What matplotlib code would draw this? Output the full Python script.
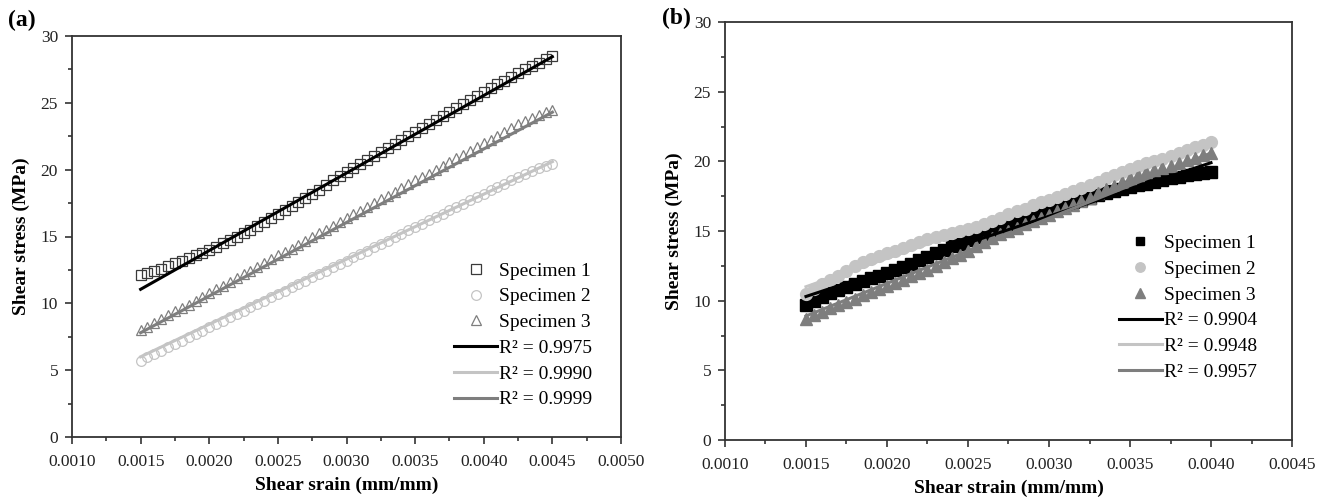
import numpy as np
import matplotlib
matplotlib.use("Agg")
import matplotlib.pyplot as plt
from matplotlib.ticker import MultipleLocator

plt.rcParams['font.family'] = ['Liberation Serif', 'DejaVu Serif']

# shear strain (mm/mm), same sampling for both panels
strain_a = [0.00150, 0.00155, 0.00160, 0.00165, 0.00170, 0.00175, 0.00180, 0.00185, 0.00190, 0.00195,
            0.00200, 0.00205, 0.00210, 0.00215, 0.00220, 0.00225, 0.00230, 0.00235, 0.00240, 0.00245,
            0.00250, 0.00255, 0.00260, 0.00265, 0.00270, 0.00275, 0.00280, 0.00285, 0.00290, 0.00295,
            0.00300, 0.00305, 0.00310, 0.00315, 0.00320, 0.00325, 0.00330, 0.00335, 0.00340, 0.00345,
            0.00350, 0.00355, 0.00360, 0.00365, 0.00370, 0.00375, 0.00380, 0.00385, 0.00390, 0.00395,
            0.00400, 0.00405, 0.00410, 0.00415, 0.00420, 0.00425, 0.00430, 0.00435, 0.00440, 0.00445,
            0.00450]
strain_b = strain_a[:51]

# (a) shear stress, MPa
a_spec1 = [12.1, 12.25, 12.4, 12.6, 12.8, 13.0, 13.2, 13.4, 13.6, 13.8,
           14.0, 14.25, 14.5, 14.75, 15.0, 15.25, 15.5, 15.8, 16.1, 16.4,
           16.7, 17.0, 17.3, 17.6, 17.9, 18.2, 18.5, 18.85, 19.2, 19.5,
           19.8, 20.1, 20.4, 20.7, 21.0, 21.3, 21.6, 21.9, 22.2, 22.5,
           22.8, 23.1, 23.4, 23.7, 24.0, 24.3, 24.6, 24.9, 25.2, 25.5,
           25.8, 26.1, 26.4, 26.65, 26.9, 27.2, 27.5, 27.75, 28.0, 28.25,
           28.5]
a_spec2 = [5.7, 5.95, 6.2, 6.45, 6.7, 6.95, 7.2, 7.45, 7.7, 7.95,
           8.2, 8.45, 8.7, 8.95, 9.2, 9.45, 9.7, 9.95, 10.2, 10.45,
           10.7, 10.95, 11.2, 11.45, 11.7, 11.95, 12.2, 12.45, 12.7, 12.95,
           13.2, 13.45, 13.7, 13.95, 14.2, 14.45, 14.7, 14.95, 15.2, 15.45,
           15.7, 15.95, 16.2, 16.45, 16.7, 16.95, 17.2, 17.45, 17.7, 17.95,
           18.2, 18.45, 18.7, 18.95, 19.2, 19.45, 19.7, 19.9, 20.1, 20.25,
           20.4]
a_spec3 = [8.0, 8.25, 8.5, 8.8, 9.1, 9.4, 9.65, 9.9, 10.2, 10.5,
           10.8, 11.05, 11.3, 11.6, 11.9, 12.2, 12.45, 12.7, 13.0, 13.3,
           13.6, 13.85, 14.1, 14.4, 14.7, 15.0, 15.25, 15.5, 15.8, 16.1,
           16.4, 16.65, 16.9, 17.2, 17.5, 17.8, 18.05, 18.3, 18.6, 18.9,
           19.2, 19.45, 19.7, 20.0, 20.3, 20.6, 20.85, 21.1, 21.4, 21.7,
           22.0, 22.25, 22.5, 22.8, 23.1, 23.4, 23.65, 23.9, 24.1, 24.3,
           24.5]
# linear fits (end points)
a_fit_x = [0.0015, 0.0045]
a_fit1 = [11.05, 28.45]
a_fit2 = [6.0, 20.6]
a_fit3 = [7.8, 24.3]
a_r2 = ['0.9975', '0.9990', '0.9999']

# (b) shear stress, MPa
b_spec1 = [9.7, 10.0, 10.25, 10.55, 10.8, 11.0, 11.2, 11.4, 11.6, 11.8,
           12.0, 12.2, 12.45, 12.65, 12.9, 13.15, 13.4, 13.65, 13.9, 14.1,
           14.35, 14.55, 14.8, 15.05, 15.25, 15.5, 15.7, 15.9, 16.1, 16.3,
           16.5, 16.7, 16.85, 17.05, 17.2, 17.4, 17.55, 17.75, 17.9, 18.05,
           18.15, 18.3, 18.4, 18.55, 18.65, 18.8, 18.9, 19.0, 19.1, 19.15,
           19.2]
b_spec2 = [10.5, 10.85, 11.2, 11.5, 11.8, 12.15, 12.5, 12.75, 13.0, 13.2,
           13.4, 13.6, 13.8, 14.0, 14.2, 14.4, 14.55, 14.7, 14.85, 15.0,
           15.15, 15.3, 15.5, 15.7, 15.95, 16.2, 16.4, 16.6, 16.85, 17.05,
           17.25, 17.45, 17.65, 17.9, 18.1, 18.3, 18.55, 18.8, 19.0, 19.2,
           19.45, 19.65, 19.85, 20.0, 20.2, 20.4, 20.6, 20.8, 21.0, 21.2,
           21.4]
b_spec3 = [8.7, 8.95, 9.2, 9.45, 9.7, 9.9, 10.15, 10.4, 10.6, 10.85,
           11.05, 11.3, 11.5, 11.75, 11.95, 12.2, 12.5, 12.8, 13.05, 13.3,
           13.6, 13.9, 14.2, 14.5, 14.75, 15.0, 15.25, 15.5, 15.7, 15.95,
           16.15, 16.4, 16.65, 16.9, 17.15, 17.4, 17.7, 18.0, 18.25, 18.5,
           18.8, 19.0, 19.2, 19.4, 19.55, 19.7, 19.9, 20.1, 20.25, 20.45,
           20.6]
b_fit_x = [0.0015, 0.0040]
b_fit1 = [10.3, 19.9]
b_fit2 = [11.0, 21.2]
b_fit3 = [8.9, 20.6]
b_r2 = ['0.9904', '0.9948', '0.9957']

for s in (a_spec1, a_spec2, a_spec3):
    assert len(s) == len(strain_a)
for s in (b_spec1, b_spec2, b_spec3):
    assert len(s) == len(strain_b)

c1, c2, c3 = '#000000', '#c4c4c4', '#7e7e7e'

fig = plt.figure(figsize=(13.21, 4.99), dpi=100)
ax_a = fig.add_axes([72/1321, 1 - 437/499, 549/1321, 401/499])
ax_b = fig.add_axes([725/1321, 1 - 440/499, 567/1321, 418/499])


def style(ax, xmax, xlabel):
    ax.set_xlim(0.0010, xmax)
    ax.set_ylim(0, 30)
    ax.xaxis.set_major_locator(MultipleLocator(0.0005))
    ax.xaxis.set_minor_locator(MultipleLocator(0.00025))
    ax.yaxis.set_major_locator(MultipleLocator(5))
    ax.yaxis.set_minor_locator(MultipleLocator(2.5))
    ax.xaxis.set_major_formatter(plt.FormatStrFormatter('%.4f'))
    ax.tick_params(which='both', direction='out', top=False, right=False,
                   labelsize=12.5, width=1.1, colors='#222222')
    ax.tick_params(which='major', length=5)
    ax.tick_params(which='minor', length=3)
    ax.tick_params(axis='x', which='major', pad=7)
    ax.tick_params(axis='y', which='major', pad=5)
    for sp in ax.spines.values():
        sp.set_linewidth(1.3)
        sp.set_color('#333333')
    ax.set_xlabel(xlabel, fontsize=14, fontweight='bold', labelpad=5)
    ax.set_ylabel('Shear stress (MPa)', fontsize=14, fontweight='bold', labelpad=8)


# panel (a): open markers
ax_a.plot(strain_a, a_spec1, ls='none', marker='s', ms=7, mfc='none', mec='#3a3a3a', mew=0.9, label='Specimen 1')
ax_a.plot(strain_a, a_spec2, ls='none', marker='o', ms=7, mfc='none', mec=c2, mew=0.9, label='Specimen 2')
ax_a.plot(strain_a, a_spec3, ls='none', marker='^', ms=7, mfc='none', mec=c3, mew=0.9, label='Specimen 3')
ax_a.plot(a_fit_x, a_fit1, color=c1, lw=2.2, label='R² = ' + a_r2[0])
ax_a.plot(a_fit_x, a_fit2, color=c2, lw=2.2, label='R² = ' + a_r2[1])
ax_a.plot(a_fit_x, a_fit3, color=c3, lw=2.2, label='R² = ' + a_r2[2])
style(ax_a, 0.0050, 'Shear srain (mm/mm)')
ax_a.legend(loc='lower right', bbox_to_anchor=(0.965, 0.047), frameon=False, fontsize=14,
            handlelength=2.2, handletextpad=0.1, labelspacing=0.42, borderpad=0)

# panel (b): filled markers
ax_b.plot(strain_b, b_spec1, ls='none', marker='s', ms=8, color=c1, label='Specimen 1')
ax_b.plot(strain_b, b_spec2, ls='none', marker='o', ms=8.5, color=c2, label='Specimen 2')
ax_b.plot(strain_b, b_spec3, ls='none', marker='^', ms=8.5, color=c3, label='Specimen 3')
ax_b.plot(b_fit_x, b_fit1, color=c1, lw=2.2, label='R² = ' + b_r2[0])
ax_b.plot(b_fit_x, b_fit2, color=c2, lw=2.2, label='R² = ' + b_r2[1])
ax_b.plot(b_fit_x, b_fit3, color=c3, lw=2.2, label='R² = ' + b_r2[2])
style(ax_b, 0.0045, 'Shear strain (mm/mm)')
ax_b.legend(loc='lower right', bbox_to_anchor=(0.955, 0.118), frameon=False, fontsize=14,
            handlelength=2.2, handletextpad=0.1, labelspacing=0.42, borderpad=0,
            markerscale=0.8)

fig.text(8/1321, 1 - 20/499, '(a)', fontsize=17, fontweight='bold', va='center')
fig.text(662/1321, 1 - 18/499, '(b)', fontsize=17, fontweight='bold', va='center')

fig.savefig('out.png', dpi=100)
